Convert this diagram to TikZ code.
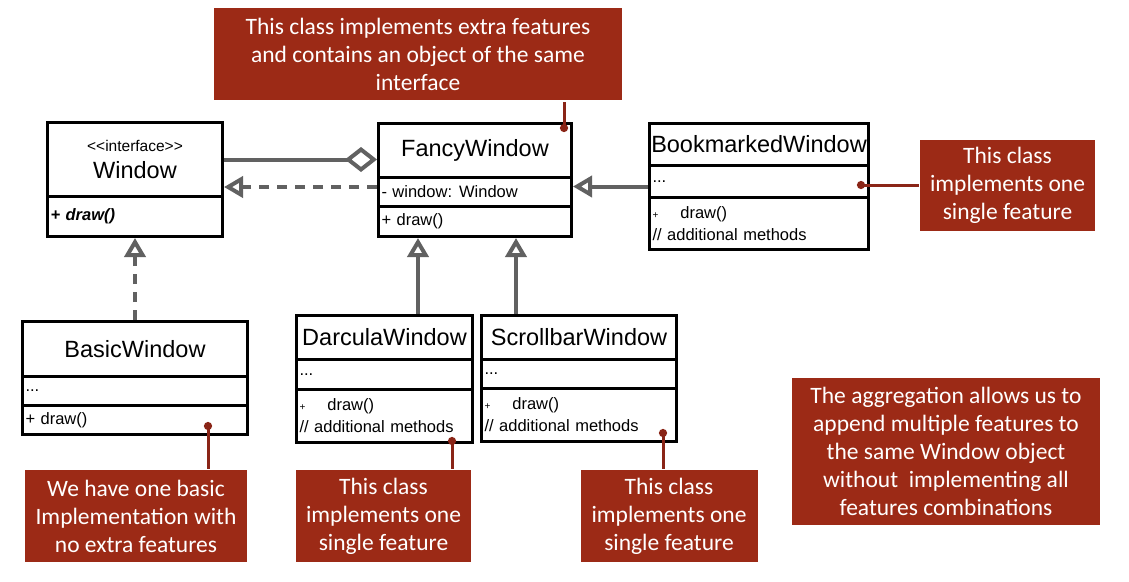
\documentclass[tikz,border=0pt]{standalone}
\usepackage{fontspec}
\setmainfont{Liberation Sans}
\newfontfamily\notefont{Carlito}
\usepackage{tikz}
\usetikzlibrary{positioning}
\usetikzlibrary{arrows.meta}
\definecolor{notered}{HTML}{9C2A16}
\definecolor{pinred}{HTML}{8A2517}
\definecolor{linkgray}{HTML}{616161}
\newcommand{\titlesize}{\fontsize{23.5}{27}\selectfont}
\newcommand{\membersize}{\fontsize{16.5}{22}\selectfont}
\newcommand{\notesize}{\notefont\fontsize{23.5}{28}\selectfont}
\newcommand{\smallplus}{{\fontsize{10}{12}\selectfont +}\hspace{22pt}}
\tikzset{every picture/.style={
    every path/.style={line width=3pt},
}}

\begin{document}
\begin{tikzpicture}[x=1pt, y=-1pt,
    umltitle/.style={draw, anchor=north west, align=center, inner xsep=1pt, inner ysep=0pt, font=\titlesize},
    umlpart/.style={draw, anchor=north west, align=left, inner xsep=3pt, inner ysep=0pt, font=\membersize},
    notebox/.style={fill=notered, text=white, align=center, inner sep=0pt, font=\notesize},
    notepin/.style={pinred, line width=3pt, {Circle[length=8pt]}-},
    linkline/.style={linkgray, line width=4pt},
    inherit/.style={linkline, -{Triangle[open, length=19pt, width=21pt]}},
    realize/.style={inherit, dash pattern=on 10pt off 8pt},
    aggr/.style={linkline, -{Diamond[open, fill=white, length=32pt, width=25pt]}}]
    \useasboundingbox[fill=white] (0,0) rectangle (1129,581);

    % classes
    \node[umltitle, text width=173, minimum height=74] (wintitle) at (46,121)
        {{\fontsize{15.5}{18}\selectfont <{}<interface>{}>}\\[0pt]Window};
    \node[umlpart, text width=169, minimum height=40] (winmeth) at (46,195) {\textbf{\textit{+ draw()}}};

    \node[umltitle, text width=191, minimum height=54] (fancytitle) at (377,122) {FancyWindow};
    \node[umlpart, text width=187, minimum height=29] (fancyattr) at (377,176) {- window:\hspace{7pt}Window};
    \node[umlpart, text width=187, minimum height=30] (fancymeth) at (377,205) {+ draw()};

    \node[umltitle, text width=217, minimum height=42] (bmtitle) at (648,122) {BookmarkedWindow};
    \node[umlpart, text width=213, minimum height=32] (bmattr) at (648,164) {...};
    \node[umlpart, text width=213, minimum height=52] (bmmeth) at (648,196) {\smallplus draw()\\// additional methods};

    \node[umltitle, text width=223, minimum height=55] (basictitle) at (21,320) {BasicWindow};
    \node[umlpart, text width=219, minimum height=29] (basicattr) at (21,375) {...};
    \node[umlpart, text width=219, minimum height=29] (basicmeth) at (21,404) {+ draw()};

    \node[umltitle, text width=174, minimum height=44] (darcutitle) at (295,314) {DarculaWindow};
    \node[umlpart, text width=170, minimum height=30] (darcuattr) at (295,358) {...};
    \node[umlpart, text width=170, minimum height=53] (darcumeth) at (295,388) {\smallplus draw()\\// additional methods};

    \node[umltitle, text width=193, minimum height=44] (scrolltitle) at (480,314) {ScrollbarWindow};
    \node[umlpart, text width=189, minimum height=29] (scrollattr) at (480,358) {...};
    \node[umlpart, text width=189, minimum height=53] (scrollmeth) at (480,387) {\smallplus draw()\\// additional methods};

    % relations
    \draw[aggr] (wintitle.east) -- (wintitle.east -| fancytitle.west);
    \draw[realize] ([yshift=5pt]fancyattr.west) -- ([yshift=5pt]fancyattr.west -| wintitle.east);
    \draw[realize] (basictitle.north) -- (basictitle.north |- winmeth.south);
    \draw[inherit] (darcutitle.north -| 418,0) -- (fancymeth.south -| 418,0);
    \draw[inherit] (scrolltitle.north -| 516,0) -- (fancymeth.south -| 516,0);
    \draw[inherit] ([yshift=-5pt]bmattr.west) -- ([yshift=-5pt]bmattr.west -| fancyattr.east);

    % notes
    \node[notebox, minimum width=408, minimum height=92] (fancynote) at (418,54)
        {This class implements extra features\\and contains an object of the same\\interface};
    \node[notebox, minimum width=175, minimum height=91] (bmnote) at (1007.5,185.5)
        {This class\\implements one\\single feature};
    \node[notebox, minimum width=222, minimum height=92] (basicnote) at (136,516)
        {We have one basic\\Implementation with\\no extra features};
    \node[notebox, minimum width=175, minimum height=92] (darcunote) at (383.5,516)
        {This class\\implements one\\single feature};
    \node[notebox, minimum width=177, minimum height=92] (scrollnote) at (669,516)
        {This class\\implements one\\single feature};
    \node[notebox, minimum width=308, minimum height=147] (aggrnote) at (946,451.5)
        {The aggregation allows us to\\append multiple features to\\the same Window object\\without~ implementing all\\features combinations};

    \coordinate (fancydot) at (564,132);
    \coordinate (bmdot) at (857,185);
    \coordinate (basicdot) at (208,422);
    \coordinate (darcudot) at (452,437);
    \coordinate (scrolldot) at (663,429);
    \draw[notepin] (fancydot) -- (fancydot |- fancynote.south);
    \draw[notepin] (bmdot) -- (bmdot -| bmnote.west);
    \draw[notepin] (basicdot) -- (basicdot |- basicnote.north);
    \draw[notepin] (darcudot) -- (darcudot |- darcunote.north);
    \draw[notepin] (scrolldot) -- (scrolldot |- scrollnote.north);
\end{tikzpicture}
\end{document}
